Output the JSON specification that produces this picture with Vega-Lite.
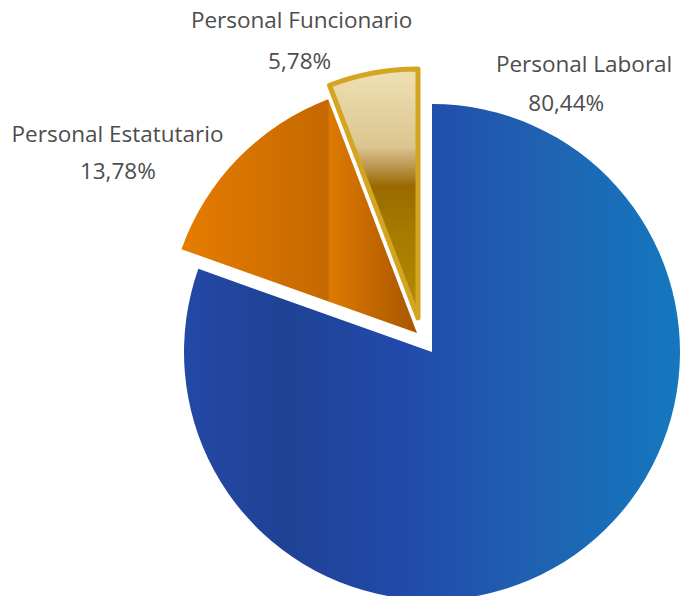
{
  "$schema": "https://vega.github.io/schema/vega-lite/v6.json",
  "autosize": {"type": "none"},
  "width": 498,
  "height": 488,
  "padding": {"left": 183, "top": 108, "right": 0, "bottom": 0},
  "background": "white",
  "config": {"view": {"stroke": null}},
  "data": {
    "values": [
      {"categoria": "Personal Laboral", "valor": 80.44, "pct": "80,44%"},
      {"categoria": "Personal Estatutario", "valor": 13.78, "pct": "13,78%"},
      {"categoria": "Personal Funcionario", "valor": 5.78, "pct": "5,78%"}
    ]
  },
  "layer": [
    {
      "mark": {"type": "arc", "radius": 248},
      "encoding": {
        "theta": {"field": "valor", "type": "quantitative", "stack": true},
        "order": {"field": "valor", "type": "quantitative", "sort": "descending"},
        "fill": {
          "condition": {"test": "datum.categoria === 'Personal Laboral'",
            "value": {"gradient": "linear", "x1": 0, "y1": 0, "x2": 1, "y2": 0,
              "stops": [
                {"offset": 0, "color": "#2449a6"},
                {"offset": 0.2, "color": "#1f4294"},
                {"offset": 0.45, "color": "#214aab"},
                {"offset": 0.72, "color": "#1f62b2"},
                {"offset": 1, "color": "#1478be"}
              ]}},
          "value": "transparent"
        }
      }
    },
    {
      "mark": {"type": "arc", "radius": 250, "xOffset": -15, "yOffset": -19},
      "encoding": {
        "theta": {"field": "valor", "type": "quantitative", "stack": true},
        "order": {"field": "valor", "type": "quantitative", "sort": "descending"},
        "fill": {
          "condition": {"test": "datum.categoria === 'Personal Estatutario'",
            "value": {"gradient": "linear", "x1": 0, "y1": 0, "x2": 1, "y2": 0,
              "stops": [
                {"offset": 0, "color": "#e67c00"},
                {"offset": 0.62, "color": "#c56800"},
                {"offset": 0.63, "color": "#dd7900"},
                {"offset": 1, "color": "#a85600"}
              ]}},
          "value": "transparent"
        }
      }
    },
    {
      "mark": {"type": "arc", "radius": 249, "xOffset": -14, "yOffset": -34, "strokeWidth": 5, "strokeJoin": "round"},
      "encoding": {
        "theta": {"field": "valor", "type": "quantitative", "stack": true},
        "order": {"field": "valor", "type": "quantitative", "sort": "descending"},
        "fill": {
          "condition": {"test": "datum.categoria === 'Personal Funcionario'",
            "value": {"gradient": "linear", "x1": 0, "y1": 0, "x2": 0, "y2": 1,
              "stops": [
                {"offset": 0, "color": "#efe0b4"},
                {"offset": 0.31, "color": "#dcc690"},
                {"offset": 0.37, "color": "#c4a264"},
                {"offset": 0.47, "color": "#9a6a00"},
                {"offset": 0.65, "color": "#a57a00"},
                {"offset": 1, "color": "#b38d00"}
              ]}},
          "value": "transparent"
        },
        "stroke": {
          "condition": {"test": "datum.categoria === 'Personal Funcionario'", "value": "#d4a520"},
          "value": "transparent"
        }
      }
    },
    {
      "transform": [{"filter": "datum.categoria === 'Personal Laboral'"}],
      "mark": {"type": "text", "theta": 0.487, "radius": 325, "font": "Open Sans", "fontSize": 22.5, "color": "#4d4d4d", "baseline": "middle", "align": "center"},
      "encoding": {"text": {"field": "categoria"}}
    },
    {
      "transform": [{"filter": "datum.categoria === 'Personal Laboral'"}],
      "mark": {"type": "text", "theta": 0.496, "radius": 282, "font": "Open Sans", "fontSize": 22.5, "color": "#4d4d4d", "baseline": "middle", "align": "center"},
      "encoding": {"text": {"field": "pct"}}
    },
    {
      "transform": [{"filter": "datum.categoria === 'Personal Funcionario'"}],
      "mark": {"type": "text", "theta": -0.375, "radius": 356, "font": "Open Sans", "fontSize": 22.5, "color": "#4d4d4d", "baseline": "middle", "align": "center"},
      "encoding": {"text": {"field": "categoria"}}
    },
    {
      "transform": [{"filter": "datum.categoria === 'Personal Funcionario'"}],
      "mark": {"type": "text", "theta": -0.428, "radius": 319, "font": "Open Sans", "fontSize": 22.5, "color": "#4d4d4d", "baseline": "middle", "align": "center"},
      "encoding": {"text": {"field": "pct"}}
    },
    {
      "transform": [{"filter": "datum.categoria === 'Personal Estatutario'"}],
      "mark": {"type": "text", "theta": -0.967, "radius": 382, "font": "Open Sans", "fontSize": 22.5, "color": "#4d4d4d", "baseline": "middle", "align": "center"},
      "encoding": {"text": {"field": "categoria"}}
    },
    {
      "transform": [{"filter": "datum.categoria === 'Personal Estatutario'"}],
      "mark": {"type": "text", "theta": -1.051, "radius": 362, "font": "Open Sans", "fontSize": 22.5, "color": "#4d4d4d", "baseline": "middle", "align": "center"},
      "encoding": {"text": {"field": "pct"}}
    }
  ]
}
